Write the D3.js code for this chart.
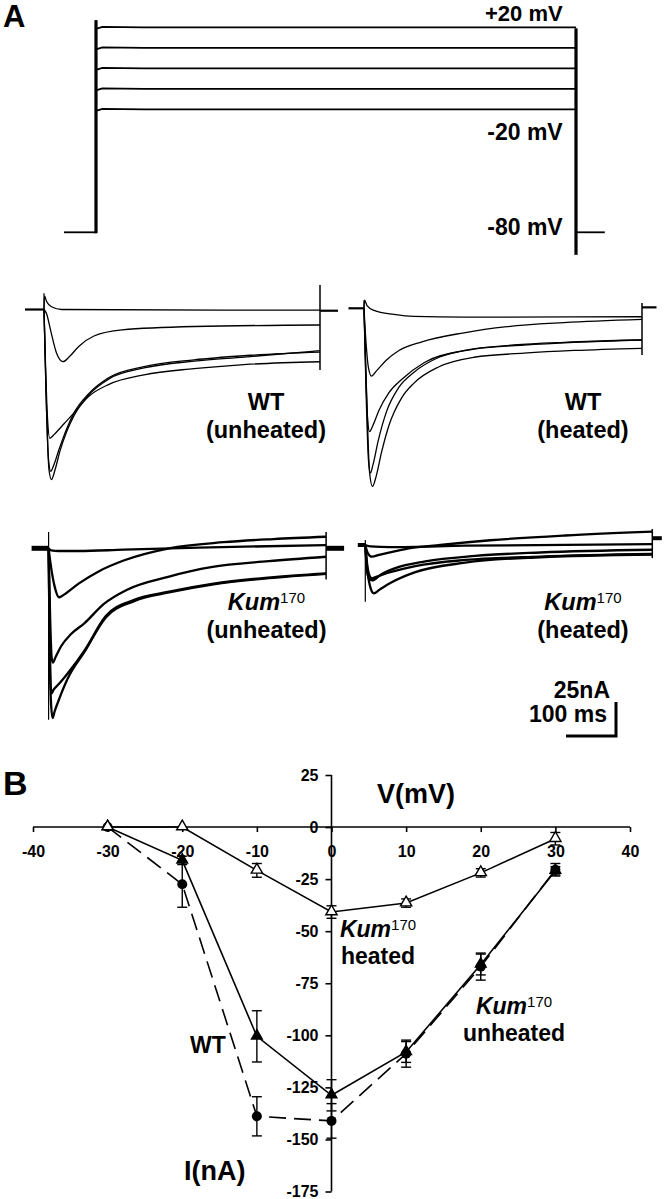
<!DOCTYPE html>
<html>
<head>
<meta charset="utf-8">
<script src="https://cdn.jsdelivr.net/npm/d3@7/dist/d3.min.js"></script>
<style>
  body { margin: 0; background: #fff; }
  svg { display: block; font-family: "Liberation Sans", Arial, Helvetica, sans-serif; font-weight: bold; }
</style>
</head>
<body>
<svg id="fig" width="664" height="1199"></svg>
<script>
// ---- panel A: voltage protocol (mV, ms)
const stepLevels = [20, 10, 0, -10, -20];
const holdingLevel = -80;
const protocolTimes = [-40, 0, 600, 636];      // pre start, step on, step off, post end
const protocolLabels = [["+20 mV", 21, 22], ["-20 mV", 140, 23], ["-80 mV", 235, 23]];

// ---- current traces [ms, nA]
const wtUnheatedTraces = [
  [[0, 0], [1, 10], [5, 6], [15, 2], [35, 0], [552, -0.5]],
  [[0, 0], [5, -3], [13, -15], [25, -32], [38, -38.4], [50, -35], [70, -27], [100, -19.5], [156, -15], [300, -12.5], [552, -11.4]],
  [[0, 0], [3, -40], [7, -80], [11.6, -94.7], [20, -92], [40, -84], [60, -76], [89, -64], [130, -55], [200, -48], [300, -43.5], [400, -40.5], [552, -38.4]],
  [[0, 0], [4, -60], [9, -110], [13.4, -119], [20, -114], [30, -103], [45, -88], [60, -76], [89, -62], [130, -50], [200, -42], [300, -37], [400, -34], [552, -31.4]],
  [[0, 0], [4, -60], [10, -118], [15, -125], [22, -118], [32, -104], [45, -90], [60, -78], [89, -63], [130, -51], [200, -43], [300, -38], [400, -35], [552, -30.3]]
];
const wtHeatedTraces = [
  [[0, 0], [1, 6], [6, 2], [20, -1.5], [60, -4.5], [100, -6], [200, -6.5], [556, -6.2]],
  [[0, 0], [4, -25], [9, -44], [15, -49.8], [25, -46], [45, -38], [70, -31], [116, -24.6], [200, -18], [286, -13.5], [400, -10.5], [556, -8.1]],
  [[0, 0], [3, -40], [7, -80], [11, -90.7], [18, -86], [30, -75], [50, -62], [74, -52.7], [120, -40], [201, -31], [300, -27], [400, -25], [556, -23.3]],
  [[0, 0], [4, -60], [9, -112], [12.8, -121], [18, -115], [28, -98], [45, -76], [70, -58], [100, -47], [150, -36], [220, -30], [320, -27], [420, -25], [556, -23.3]],
  [[0, 0], [5, -60], [11, -120], [17, -131], [24, -124], [35, -106], [50, -86], [75, -66], [100, -55], [150, -43], [220, -36], [320, -33], [420, -31], [556, -29.4]]
];
const kumUnheatedTraces = [
  [[0, 0], [5, -1.5], [20, -2], [60, -2], [150, -1], [300, 0.5], [555, 2.4]],
  [[0, 0], [5, -14], [12, -28], [21, -36], [35, -33], [60, -26], [100, -17], [150, -9], [241, 0], [350, 4.5], [450, 6.8], [555, 8.5]],
  [[0, 0], [3, -50], [6, -80], [8.4, -84], [14, -80], [25, -72], [45, -63], [72, -55], [110, -41], [156, -30.6], [241, -20.8], [325, -13.9], [440, -9.5], [555, -6.2]],
  [[0, 0], [2, -60], [4, -100], [6, -106.6], [10, -104], [20, -100], [38, -92], [72, -75], [114, -50], [170, -38], [241, -31.9], [330, -26], [440, -21.5], [555, -18.4]],
  [[0, 0], [2, -70], [5, -115], [8, -124.8], [12, -120], [22, -110], [38, -96], [72, -76], [114, -51], [170, -39], [241, -32.5], [330, -26.5], [440, -22], [555, -18.8]]
];
const kumHeatedTraces = [
  [[0, 0], [10, -1], [50, -1.5], [200, -0.5], [574, 0.7]],
  [[0, 0], [5, -6], [12.6, -8.6], [30, -7], [80, -3], [150, 0], [250, 3.5], [400, 7], [574, 9.8]],
  [[0, 0], [3, -18], [8, -25], [14, -26], [30, -22], [60, -17], [120, -12], [220, -8], [350, -5.5], [574, -3.5]],
  [[0, 0], [4, -15], [9, -23], [13, -24.5], [25, -23], [50, -20], [100, -15.5], [200, -11], [350, -8.5], [574, -6.6]],
  [[0, 0], [4, -18], [10, -31], [17, -35.5], [28, -33], [50, -28], [100, -20], [200, -13], [350, -9], [574, -7]]
];
const scaleBar = [100, 25];   // ms, nA

// ---- panel B: I-V relation
const ivVoltages = [-30, -20, -10, 0, 10, 20, 30];
const wtCurrent = [0, -16, -100.5, -128.8, -108, -66, -21];
const wtError = [0, 2, 12.3, 7.5, 5, 5, 2];
const kumHeatedCurrent = [0, 0, -20.8, -40.8, -36.5, -22, -5.6];
const kumHeatedError = [0, 0, 3.3, 3, 2, 2, 3];
const kumUnheatedCurrent = [0, -27.5, -138.9, -141.1, -108.8, -67, -20.5];
const kumUnheatedError = [0, 11, 9.4, 8.3, 6.5, 6.5, 3];
const xTicks = [-40, -30, -20, -10, 0, 10, 20, 30, 40];
const yTicks = [25, 0, -25, -50, -75, -100, -125, -150, -175];

const svg = d3.select("#fig");

// ================= panel A =================
svg.append("text").attr("x", 3).attr("y", 27).attr("font-size", 31).text("A");

const xP = d3.scaleLinear().domain([0, 600]).range([96, 576]);
const yP = d3.scaleLinear().domain([20, -80]).range([27.3, 232.3]);
const gP = svg.append("g").attr("fill", "none").attr("stroke", "#000");

stepLevels.forEach(v => {
  gP.append("path").attr("stroke-width", 1.8)
    .attr("d", d3.line()([[xP(protocolTimes[1]), yP(v) + 1.5], [xP(8), yP(v) - 0.5], [xP(60), yP(v)], [xP(protocolTimes[2]), yP(v)]]));
});
gP.append("path").attr("stroke-width", 1.8)
  .attr("d", d3.line()([[xP(protocolTimes[0]), yP(holdingLevel)], [xP(protocolTimes[1]), yP(holdingLevel)]]));
gP.append("path").attr("stroke-width", 1.8)
  .attr("d", d3.line()([[xP(protocolTimes[2]), yP(holdingLevel)], [xP(protocolTimes[3]), yP(holdingLevel)]]));
gP.append("line").attr("stroke-width", 3.2)
  .attr("x1", xP(protocolTimes[1])).attr("x2", xP(protocolTimes[1]))
  .attr("y1", yP(23.5)).attr("y2", yP(holdingLevel) + 1);
gP.append("line").attr("stroke-width", 3.2)
  .attr("x1", xP(protocolTimes[2])).attr("x2", xP(protocolTimes[2]))
  .attr("y1", yP(20) + 1).attr("y2", yP(-91));

protocolLabels.forEach(([t, yb, fs]) => {
  svg.append("text").attr("x", 562.7).attr("y", yb).attr("text-anchor", "end")
    .attr("font-size", fs).text(t);
});

// ================= current traces =================
const tracePanels = [
  { traces: wtUnheatedTraces, x0: 44, base: 309.5, pre: -38, end: 552, post: 588, postLevel: -0.9,
    onArt: [12, 0], endArt: [18, -44.5], w: 1.3, bw: 2.2, lx: 266, ly: 410, l1: "WT", l2: "(unheated)" },
  { traces: wtHeatedTraces, x0: 364, base: 308.3, pre: -31, end: 556, post: 585, postLevel: 0.7,
    onArt: [6, 0], endArt: [3.9, -34.3], w: 1.3, bw: 2.2, lx: 583, ly: 410, l1: "WT", l2: "(heated)" },
  { traces: kumUnheatedTraces, x0: 48.6, base: 548.3, pre: -34, end: 555, post: 591, postLevel: 0,
    onArt: [12, -126], endArt: [12, -23], w: 2.3, bw: 5, lx: 266.5, ly: 610, l1: "Kum", l2: "(unheated)" },
  { traces: kumHeatedTraces, x0: 365.3, base: 545, pre: -15, end: 574, post: 593, postLevel: 5,
    onArt: [3.7, -41.7], endArt: [11.8, -9.6], w: 2.3, bw: 4, lx: 583, ly: 610, l1: "Kum", l2: "(heated)" }
];

tracePanels.forEach(p => {
  const x = d3.scaleLinear().domain([0, scaleBar[0]]).range([p.x0, p.x0 + 50]);
  const y = d3.scaleLinear().domain([0, scaleBar[1]]).range([p.base, p.base - 34]);
  const straight = d3.line().x(d => x(d[0])).y(d => y(d[1]));
  const smooth = d3.line().x(d => x(d[0])).y(d => y(d[1])).curve(d3.curveMonotoneX);
  const g = svg.append("g").attr("fill", "none").attr("stroke", "#000");

  g.append("path").attr("stroke-width", p.bw).attr("d", straight([[p.pre, 0], [0, 0]]));
  g.append("path").attr("stroke-width", p.bw).attr("d", straight([[p.end, p.postLevel], [p.post, p.postLevel]]));
  g.append("path").attr("stroke-width", 1.2).attr("d", straight([[0, p.onArt[0]], [0, p.onArt[1]]]));
  g.append("path").attr("stroke-width", 1.5).attr("d", straight([[p.end, p.endArt[0]], [p.end, p.endArt[1]]]));

  g.selectAll("path.trace").data(p.traces).enter().append("path")
    .attr("class", "trace").attr("stroke-width", p.w).attr("stroke-linejoin", "round")
    .attr("d", smooth);

  const t1 = svg.append("text").attr("x", p.lx).attr("y", p.ly).attr("text-anchor", "middle").attr("font-size", 23.5);
  if (p.l1 === "Kum") {
    t1.append("tspan").attr("font-style", "italic").text("Kum");
    t1.append("tspan").attr("font-size", 15).attr("font-weight", "normal").attr("dy", -7).text("170");
  } else {
    t1.text(p.l1);
  }
  svg.append("text").attr("x", p.lx).attr("y", p.ly + 28).attr("text-anchor", "middle")
    .attr("font-size", 23.5).text(p.l2);
});

// scale bar
const sbX = d3.scaleLinear().domain([0, scaleBar[0]]).range([566, 616]);
const sbY = d3.scaleLinear().domain([0, scaleBar[1]]).range([736, 702]);
svg.append("path").attr("fill", "none").attr("stroke", "#000").attr("stroke-width", 3)
  .attr("d", d3.line()([[sbX(0), sbY(0)], [sbX(scaleBar[0]), sbY(0)], [sbX(scaleBar[0]), sbY(scaleBar[1])]]));
svg.append("text").attr("x", 610).attr("y", 698).attr("text-anchor", "end").attr("font-size", 23).text(scaleBar[1] + "nA");
svg.append("text").attr("x", 607).attr("y", 722).attr("text-anchor", "end").attr("font-size", 23).text(scaleBar[0] + " ms");

// ================= panel B =================
svg.append("text").attr("x", 3).attr("y", 795).attr("font-size", 34).text("B");

const xB = d3.scaleLinear().domain([-40, 40]).range([33, 630]);
const yB = d3.scaleLinear().domain([25, -175]).range([775, 1191.5]);

const xAxis = svg.append("g").attr("transform", `translate(0,${yB(0)})`)
  .call(d3.axisBottom(xB).tickValues(xTicks).tickFormat(d => String(d)).tickSize(5).tickSizeOuter(0).tickPadding(14));
const yAxis = svg.append("g").attr("transform", `translate(${xB(0)},0)`)
  .call(d3.axisLeft(yB).tickValues(yTicks).tickFormat(d => String(d)).tickSize(6).tickSizeOuter(0).tickPadding(7));
[xAxis, yAxis].forEach(a => {
  a.selectAll("path, line").attr("stroke", "#000").attr("stroke-width", 1.6);
  a.selectAll("text").attr("fill", "#000").attr("font-size", 16)
    .attr("font-family", "'Liberation Sans', Arial, sans-serif").attr("font-weight", "bold");
});
xAxis.select(".domain").attr("d", `M${xB(-40)},0H${xB(40)}`);
yAxis.select(".domain").attr("d", `M0,${yB(25)}V${yB(-175)}`);

const series = [
  { I: wtCurrent, E: wtError, dash: null, mark: "triFill" },
  { I: kumUnheatedCurrent, E: kumUnheatedError, dash: "17,8", mark: "circle" },
  { I: kumHeatedCurrent, E: kumHeatedError, dash: null, mark: "triOpen" }
];
const ivLine = d3.line().x(d => xB(d[0])).y(d => yB(d[1]));
const gB = svg.append("g");

series.forEach(s => {
  const pts = ivVoltages.map((v, i) => [v, s.I[i], s.E[i]]);
  gB.append("path").attr("fill", "none").attr("stroke", "#000").attr("stroke-width", 1.6)
    .attr("stroke-dasharray", s.dash).attr("d", ivLine(pts));
  const eb = gB.append("g").attr("stroke", "#000").attr("stroke-width", 1.4);
  pts.filter(d => d[2] > 0).forEach(d => {
    const cx = xB(d[0]), top = yB(d[1] + d[2]), bot = yB(d[1] - d[2]);
    eb.append("line").attr("x1", cx).attr("x2", cx).attr("y1", top).attr("y2", bot);
    eb.append("line").attr("x1", cx - 5).attr("x2", cx + 5).attr("y1", top).attr("y2", top);
    eb.append("line").attr("x1", cx - 5).attr("x2", cx + 5).attr("y1", bot).attr("y2", bot);
  });
});

series.forEach(s => {
  const pts = ivVoltages.map((v, i) => [v, s.I[i]]);
  if (s.mark === "circle") {
    gB.selectAll(null).data(pts).enter().append("circle")
      .attr("cx", d => xB(d[0])).attr("cy", d => yB(d[1])).attr("r", 5).attr("fill", "#000");
  } else {
    const sym = d3.symbol().type(d3.symbolTriangle).size(s.mark === "triOpen" ? 55 : 50);
    gB.selectAll(null).data(pts).enter().append("path")
      .attr("transform", d => `translate(${xB(d[0])},${yB(d[1]) - 0.5})`)
      .attr("d", sym)
      .attr("fill", s.mark === "triOpen" ? "#fff" : "#000")
      .attr("stroke", "#000").attr("stroke-width", 1.4);
  }
});

svg.append("text").attr("x", 377).attr("y", 803).attr("font-size", 27).text("V(mV)");
svg.append("text").attr("x", 184).attr("y", 1180).attr("font-size", 27).text("I(nA)");
svg.append("text").attr("x", 190).attr("y", 1053).attr("font-size", 23).text("WT");

function kumLabel(cx, yb, second) {
  const t = svg.append("text").attr("x", cx).attr("y", yb).attr("text-anchor", "middle").attr("font-size", 23);
  t.append("tspan").attr("font-style", "italic").text("Kum");
  t.append("tspan").attr("font-size", 15).attr("font-weight", "normal").attr("dy", -7).text("170");
  svg.append("text").attr("x", cx).attr("y", yb + 27).attr("text-anchor", "middle").attr("font-size", 23).text(second);
}
kumLabel(378, 937, "heated");
kumLabel(514, 1014, "unheated");
</script>
</body>
</html>
